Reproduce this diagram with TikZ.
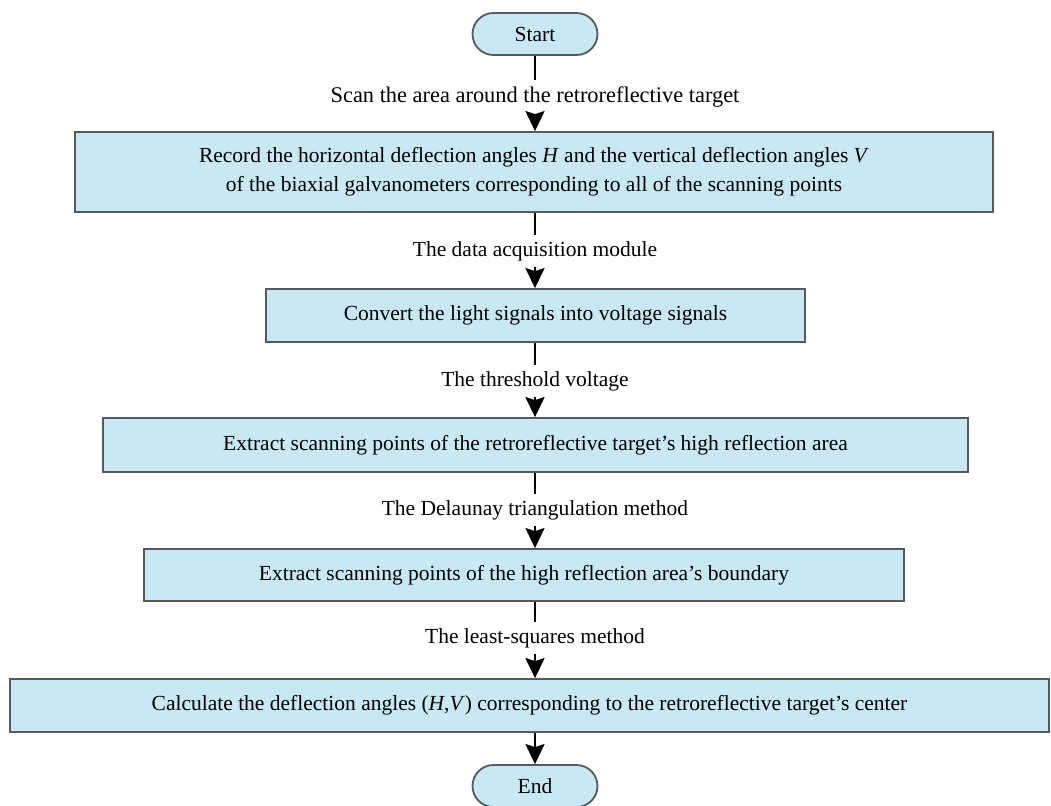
\documentclass[tikz,border=0pt]{standalone}
\usepackage{fontspec}
\setmainfont{Liberation Serif}
\usetikzlibrary{positioning}
\usetikzlibrary{arrows.meta}
\definecolor{boxblue}{RGB}{200,232,244}
\definecolor{boxedge}{RGB}{85,90,95}

\begin{document}
\begin{tikzpicture}[x=0.5pt,y=-0.5pt]

\def\txtfont{\fontsize{10.75}{14.5}\selectfont}

\tikzset{procbox/.style={draw=boxedge, line width=0.9pt, fill=boxblue, font=\txtfont, align=center, inner sep=0pt},
termbox/.style={procbox, rounded corners=10.5pt, minimum width=62.5pt, minimum height=21pt},
steplab/.style={font=\txtfont, inner sep=3pt},
flowline/.style={line width=1.4pt},
flowarrow/.style={line width=1.4pt, -{Stealth[length=10pt,width=9.5pt,inset=1.5pt]}}}

\useasboundingbox (0,0) rectangle (1051,805);

\node[termbox] (start) at (535,34) {Start};
\node[steplab, font=\fontsize{11.2}{14}\selectfont] (scan) at (535,97) {Scan the area around the retroreflective target};

\node[procbox, minimum width=459pt, minimum height=40pt] (record) at (534,172) {Record the horizontal deflection angles \textit{H} and the vertical deflection angles \textit{V}\\of the biaxial galvanometers corresponding to all of the scanning points};
\node[steplab] (daq) at (535,251) {The data acquisition module};

\node[procbox, minimum width=269.5pt, minimum height=26.5pt] (convert) at (535.5,315.5) {Convert the light signals into voltage signals};
\node[steplab] (thresh) at (535,381) {The threshold voltage};

\node[procbox, minimum width=432.5pt, minimum height=27pt] (extract) at (535.5,445) {Extract scanning points of the retroreflective target’s high reflection area};
\node[steplab] (delaunay) at (535,510) {The Delaunay triangulation method};

\node[procbox, minimum width=380pt, minimum height=26pt] (boundary) at (524,575) {Extract scanning points of the high reflection area’s boundary};
\node[steplab] (lsq) at (535,638) {The least-squares method};

\node[procbox, minimum width=519.5pt, minimum height=26.5pt] (calc) at (529.5,705.5) {Calculate the deflection angles (\textit{H},\textit{V}) corresponding to the retroreflective target’s center};

\node[termbox] (stop) at (535,786) {End};

\draw[flowline] (start) -- (scan);
\draw[flowarrow] (scan) -- (scan |- record.north);
\draw[flowline] (record.south -| daq) -- (daq);
\draw[flowarrow] (daq) -- (daq |- convert.north);
\draw[flowline] (convert.south -| thresh) -- (thresh);
\draw[flowarrow] (thresh) -- (thresh |- extract.north);
\draw[flowline] (extract.south -| delaunay) -- (delaunay);
\draw[flowarrow] (delaunay) -- (delaunay |- boundary.north);
\draw[flowline] (boundary.south -| lsq) -- (lsq);
\draw[flowarrow] (lsq) -- (lsq |- calc.north);
\draw[flowarrow] (calc.south -| stop) -- (stop);
\end{tikzpicture}
\end{document}
